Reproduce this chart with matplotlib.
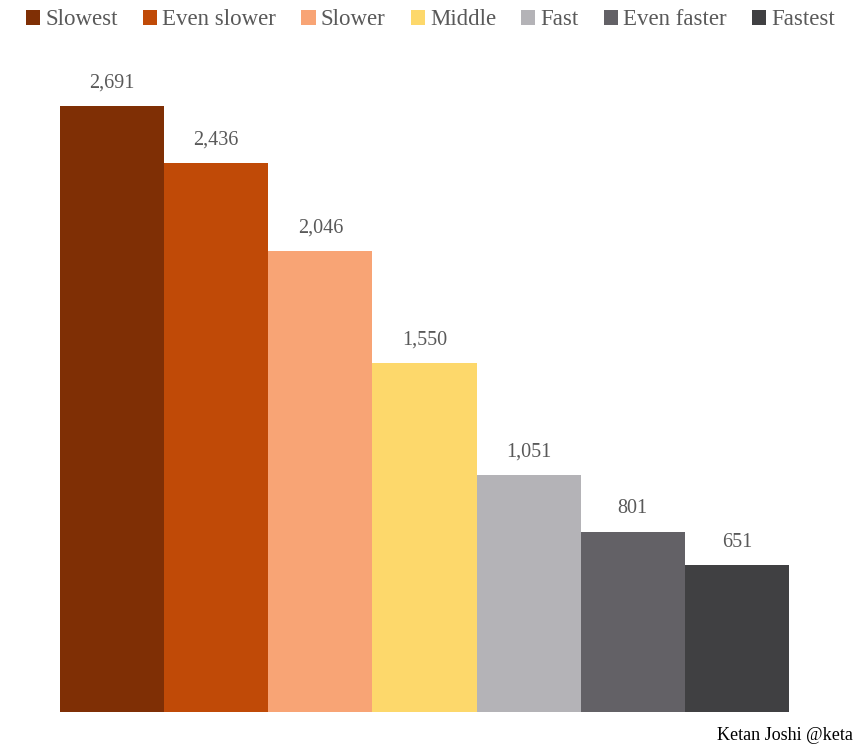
import matplotlib
matplotlib.use("Agg")
import matplotlib.pyplot as plt

categories = ["Slowest", "Even slower", "Slower", "Middle", "Fast", "Even faster", "Fastest"]
values = [2691, 2436, 2046, 1550, 1051, 801, 651]
colors = ["#7f2f05", "#c04a07", "#f8a475", "#fdd86b", "#b4b3b7", "#636166", "#404042"]

plt.rcParams['font.family'] = ['Liberation Serif', 'DejaVu Serif']

W, H = 866, 744
fig = plt.figure(figsize=(W / 100, H / 100), dpi=100)
ax = fig.add_axes([60 / W, (H - 712) / H, (789 - 60) / W, (712 - 36.4) / H])

for i, (c, v, col) in enumerate(zip(categories, values, colors)):
    ax.bar(i, v, width=1.0, color=col, label=c, edgecolor='none')
    ax.annotate(f"{v:,}", (i, v), xytext=(0, 10), textcoords='offset points',
                ha='center', va='bottom', fontsize=14.5, color='#595959')

ax.set_xlim(-0.5, len(values) - 0.5)
ax.set_ylim(0, 3000)
ax.axis('off')

handles, labels = ax.get_legend_handles_labels()
fig.legend(handles, labels, loc='upper center', bbox_to_anchor=(430.5 / W, 1.015), ncol=7,
           frameon=False, fontsize=16.5, handlelength=0.62, handleheight=0.62,
           handletextpad=0.22, columnspacing=1.1, labelcolor='#595959')

fig.text(717 / W, (H - 740) / H, "Ketan Joshi @keta", fontsize=13, color='black',
         ha='left', va='baseline')

fig.savefig("out.png", dpi=100, facecolor='white')
